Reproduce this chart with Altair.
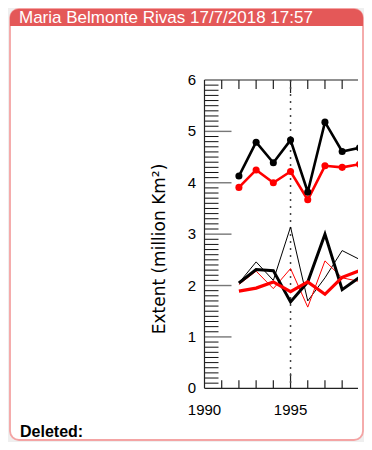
import altair as alt
import pandas as pd

# ---- data ----
years = [1992, 1993, 1994, 1995, 1996, 1997, 1998, 1999]
upper_black = [4.13, 4.79, 4.39, 4.83, 3.82, 5.18, 4.61, 4.68]
upper_red = [3.91, 4.25, 4.00, 4.22, 3.67, 4.33, 4.30, 4.36]
thin_black = [2.05, 2.46, 2.10, 3.14, 1.70, 2.15, 2.68, 2.51]
thick_black = [2.05, 2.31, 2.29, 1.68, 2.07, 3.00, 1.92, 2.16]
thin_red = [2.02, 2.28, 1.94, 2.33, 1.58, 2.48, 2.15, 2.08]
thick_red = [1.89, 1.95, 2.07, 1.88, 2.07, 1.83, 2.16, 2.29]

y_labels = [0, 1, 2, 3, 4, 5, 6]
x_labels = [1990, 1995]
minor_x_ticks = [1991, 1992, 1993, 1994, 1996, 1997, 1998]
major_x_ticks = [1995]
minor_y_ticks = [round(i * 0.1, 1) for i in range(1, 60) if i % 10]
major_y_ticks = [1, 2, 3, 4, 5]
marker_year = [1995]

header_text = "Maria Belmonte Rivas 17/7/2018 17:57"
footer_text = "Deleted:"
y_title = "Extent (million Km²)"

# ---- layout ----
W, H = 153.5, 308.3
XDOM = [1990, 1998.92]

df = pd.DataFrame({
    "year": years, "ub": upper_black, "ur": upper_red,
    "tnb": thin_black, "tkb": thick_black, "tnr": thin_red, "tkr": thick_red,
})
one = pd.DataFrame({"a": [0]})

xs = alt.Scale(domain=XDOM, nice=False, zero=False)
ys = alt.Scale(domain=[0, 6], nice=False, zero=False)


def X(f):
    return alt.X(f, type="quantitative", scale=xs, axis=None)


def Y(f):
    return alt.Y(f, type="quantitative", scale=ys, axis=None)


RED = "#ff0000"
BLACK = "#000000"
AX = "#222222"

box = alt.Chart(one).mark_rect(
    fill="white", stroke="#f4a4a4", strokeWidth=1.8, cornerRadius=9
).encode(x=alt.value(-194.5), x2=alt.value(158.5), y=alt.value(-71), y2=alt.value(360))

header = alt.Chart(one).mark_rect(
    fill="#e45858", cornerRadiusTopLeft=9, cornerRadiusTopRight=9
).encode(x=alt.value(-194.5), x2=alt.value(158.5), y=alt.value(-71), y2=alt.value(-54))

header_lbl = alt.Chart(one).mark_text(
    align="left", baseline="alphabetic", font="Liberation Sans", fontSize=17, color="white"
).encode(x=alt.value(-185.5), y=alt.value(-57.5), text=alt.value(header_text))

footer_lbl = alt.Chart(one).mark_text(
    align="left", baseline="alphabetic", font="Liberation Sans", fontSize=16,
    fontWeight="bold", color="black"
).encode(x=alt.value(-184.5), y=alt.value(357), text=alt.value(footer_text))

# ---- axes drawn through the scales ----
axes = [
    alt.Chart(pd.DataFrame({"v": y_labels})).mark_text(
        align="right", baseline="middle", font="Liberation Sans", fontSize=15, color="black"
    ).encode(y=Y("v"), x=alt.value(-8.5), text=alt.Text("v:Q", format="d")),
    alt.Chart(pd.DataFrame({"t": x_labels})).mark_text(
        align="center", baseline="top", font="Liberation Sans", fontSize=15, color="black"
    ).encode(x=X("t"), y=alt.value(H + 15), text=alt.Text("t:Q", format="d")),
    alt.Chart(one).mark_text(
        angle=270, align="center", baseline="alphabetic", font="DejaVu Sans",
        fontSize=17, color="black"
    ).encode(x=alt.value(-39.5), y=alt.value(169), text=alt.value(y_title)),
    alt.Chart(one).mark_rule(color=AX, strokeWidth=1.2).encode(
        x=alt.value(0), y=alt.value(0), y2=alt.value(H)),
    alt.Chart(one).mark_rule(color=AX, strokeWidth=1.2).encode(
        x=alt.value(0), x2=alt.value(W), y=alt.value(H)),
    alt.Chart(one).mark_rule(color=AX, strokeWidth=1.2).encode(
        x=alt.value(0), x2=alt.value(W), y=alt.value(0)),
]

ticks = [
    alt.Chart(pd.DataFrame({"v": minor_y_ticks})).mark_rule(color="#111", strokeWidth=1).encode(
        y=Y("v"), x=alt.value(0), x2=alt.value(14)),
    alt.Chart(pd.DataFrame({"v": major_y_ticks})).mark_rule(color="#777", strokeWidth=1.4).encode(
        y=Y("v"), x=alt.value(0), x2=alt.value(27)),
    alt.Chart(pd.DataFrame({"t": minor_x_ticks})).mark_rule(color=AX, strokeWidth=1.2).encode(
        x=X("t"), y=alt.value(H), y2=alt.value(H - 8)),
    alt.Chart(pd.DataFrame({"t": major_x_ticks})).mark_rule(color=AX, strokeWidth=1.2).encode(
        x=X("t"), y=alt.value(H), y2=alt.value(H - 15)),
    alt.Chart(pd.DataFrame({"t": minor_x_ticks})).mark_rule(color=AX, strokeWidth=1.2).encode(
        x=X("t"), y=alt.value(0), y2=alt.value(9)),
    alt.Chart(pd.DataFrame({"t": major_x_ticks})).mark_rule(color=AX, strokeWidth=1.2).encode(
        x=X("t"), y=alt.value(0), y2=alt.value(13)),
    alt.Chart(pd.DataFrame({"t": marker_year})).mark_rule(
        color="#444", strokeWidth=1.5, strokeDash=[2, 5]).encode(
        x=X("t"), y=alt.value(0), y2=alt.value(H)),
]

lines = [
    alt.Chart(df).mark_line(color=BLACK, strokeWidth=1, clip=True).encode(x=X("year"), y=Y("tnb")),
    alt.Chart(df).mark_line(color=RED, strokeWidth=1, clip=True).encode(x=X("year"), y=Y("tnr")),
    alt.Chart(df).mark_line(color=BLACK, strokeWidth=3, clip=True).encode(x=X("year"), y=Y("tkb")),
    alt.Chart(df).mark_line(color=RED, strokeWidth=3.2, clip=True).encode(x=X("year"), y=Y("tkr")),
    alt.Chart(df).mark_line(color=RED, strokeWidth=2.6, clip=True).encode(x=X("year"), y=Y("ur")),
    alt.Chart(df).mark_circle(color=RED, size=50, opacity=1, clip=True).encode(x=X("year"), y=Y("ur")),
    alt.Chart(df).mark_line(color=BLACK, strokeWidth=2.6, clip=True).encode(x=X("year"), y=Y("ub")),
    alt.Chart(df).mark_circle(color=BLACK, size=50, opacity=1, clip=True).encode(x=X("year"), y=Y("ub")),
]

chart = alt.layer(
    box, header, header_lbl, footer_lbl, *ticks, *axes, *lines
).properties(
    width=W, height=H,
    autosize=alt.AutoSizeParams(type="none"),
    padding={"left": 196.5, "top": 72, "right": 6, "bottom": 53.7},
    background="#efefef",
).configure_view(stroke=None)

chart.save("out.html", embed_options={"renderer": "svg", "actions": False})
